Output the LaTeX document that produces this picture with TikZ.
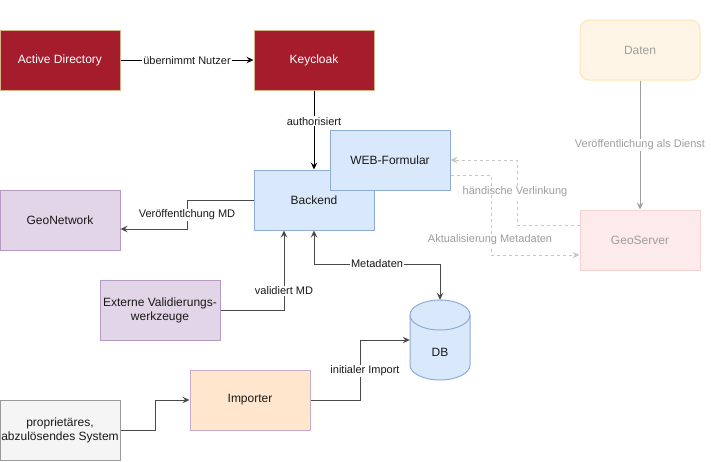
\documentclass[tikz,border=0pt]{standalone}
\usepackage{fontspec}
\setmainfont{Liberation Sans}
\usetikzlibrary{arrows.meta}
\definecolor{adfill}{HTML}{A51D2D}
\definecolor{adline}{HTML}{D9B38C}
\definecolor{bluefill}{HTML}{DAE8FC}
\definecolor{blueline}{HTML}{8FACD6}
\definecolor{purfill}{HTML}{E1D5E7}
\definecolor{purline}{HTML}{B59BC3}
\definecolor{orfill}{HTML}{FFE6CC}
\definecolor{orline}{HTML}{C8AACB}
\definecolor{greyfill}{HTML}{F5F5F5}
\definecolor{greyline}{HTML}{9A9A9A}
\definecolor{datfill}{HTML}{FFF5E6}
\definecolor{datline}{HTML}{F9E5B6}
\definecolor{gsfill}{HTML}{FDEBEB}
\definecolor{gsline}{HTML}{F5D2D2}
\definecolor{faint}{HTML}{9E9E9E}
\definecolor{dashgrey}{HTML}{C6C6C6}
\definecolor{edgegrey}{HTML}{4A4A4A}
\tikzset{
  box/.style={rectangle, minimum width=120pt, minimum height=60pt, inner sep=0pt,
    line width=1pt, font=\fontsize{12}{14}\selectfont, align=center, text=black!90},
  lbl/.style={fill=white, inner sep=1pt, font=\fontsize{11}{13}\selectfont, text=black!90},
  glbl/.style={fill=white, inner sep=1pt, font=\fontsize{11}{13}\selectfont, text=faint},
  tip/.style={-{Stealth[length=7pt,width=6.5pt,inset=2.5pt]}},
  bitip/.style={{Stealth[length=7pt,width=6.5pt,inset=2.5pt]}-{Stealth[length=7pt,width=6.5pt,inset=2.5pt]}},
  conn/.style={line width=1pt, draw=edgegrey, tip},
  dconn/.style={line width=1pt, draw=dashgrey, dash pattern=on 3pt off 3pt, tip}
}
\begin{document}
\begin{tikzpicture}[x=1pt,y=-1pt]
\useasboundingbox (0,0) rectangle (711,461);

% nodes
\node[box, fill=adfill, draw=adline, text=white] (ad) at (60,60) {Active Directory};
\node[box, fill=adfill, draw=adline, text=white] (kc) at (314,60) {Keycloak};
\node[box, fill=datfill, draw=datline, rounded corners=9pt, text=faint] (dat) at (640,50) {Daten};
\node[box, fill=bluefill, draw=blueline] (be) at (314,200) {Backend};
\node[box, fill=bluefill, draw=blueline] (wf) at (390,160) {WEB-Formular};
\node[box, fill=purfill, draw=purline] (gn) at (60,220) {GeoNetwork};
\node[box, fill=gsfill, draw=gsline, text=faint] (gs) at (640,240) {GeoServer};
\node[box, fill=purfill, draw=purline] (ev) at (160,310) {Externe Validierungs-\\werkzeuge};
\node[box, fill=orfill, draw=orline] (imp) at (250,400) {Importer};
\node[box, fill=greyfill, draw=greyline] (pr) at (60,430) {proprietäres,\\abzulösendes System};

% DB cylinder
\node[rectangle, minimum width=60pt, minimum height=80pt, inner sep=0pt] (db) at (440,340) {};
\filldraw[fill=bluefill, draw=blueline, line width=1pt]
  (410,315) -- (410,365) arc[start angle=180, end angle=0, x radius=30, y radius=15]
  -- (470,315) arc[start angle=0, end angle=-180, x radius=30, y radius=15] -- cycle;
\draw[blueline, line width=1pt] (410,315) arc[start angle=180, end angle=0, x radius=30, y radius=15];
\node[font=\fontsize{12}{14}\selectfont, text=black!90] at (440,352) {DB};

% connectors
\draw[line width=1pt, black, tip] (ad.east) -- (kc.west)
  node[lbl, midway, yshift=-1pt] {übernimmt Nutzer};
\draw[line width=1pt, black, tip] (kc.south) -- (be.north)
  node[lbl, pos=0.39] {authorisiert};
\draw[conn] (be.west) -- (187,200) -- (187,229) -- ([yshift=-9pt]gn.east);
\node[lbl] at (187,215) {Veröffentlchung MD};
\draw[conn] (ev.east) -| ([xshift=-30pt]be.south);
\node[lbl] at (284,291) {validiert MD};
\draw[line width=1pt, draw=edgegrey, bitip] (be.south) -- (314,264) -- (440,264) -- (db.north);
\node[lbl] at (377,264) {Metadaten};
\draw[conn] (pr.east) -- (155,430) -- (155,400) -- (imp.west);
\draw[conn] (imp.east) -- (360,400) -- (360,340) -- (db.west);
\node[lbl] at (365,371) {initialer Import};
\draw[line width=1pt, draw=faint, tip] (dat.south) -- (gs.north)
  node[glbl, midway] {Veröffentlichung als Dienst};
\draw[dconn] ([yshift=15pt]gs.west) -- (517,225) -- (517,160) -- (wf.east);
\node[glbl] at (515,192) {händische Verlinkung};
\draw[dconn] ([yshift=-15pt]wf.east) -- (491,175) -- (491,255) -- ([yshift=-15pt]gs.west);
\node[glbl] at (490,240) {Aktualisierung Metadaten};
\end{tikzpicture}
\end{document}
